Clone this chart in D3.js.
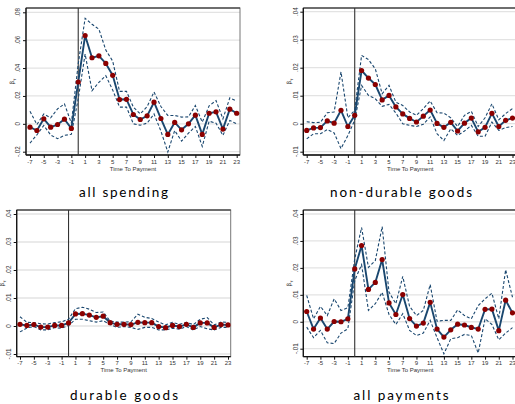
<!DOCTYPE html>
<html><head><meta charset="utf-8">
<script src="https://cdn.jsdelivr.net/npm/d3@7"></script>
<style>body{margin:0;background:#fff}svg{display:block}</style>
</head><body>
<svg id="c" width="515" height="404"></svg>
<script>
const tau = [-7,-6,-5,-4,-3,-2,-1,0,1,2,3,4,5,6,7,8,9,10,11,12,13,14,15,16,17,18,19,20,21,22,23];
const xTicks = [-7,-5,-3,-1,1,3,5,7,9,11,13,15,17,19,21,23];
const yTicksSpend = [-0.02,0,0.02,0.04,0.06,0.08];
const yTicksOther = [-0.01,0,0.01,0.02,0.03,0.04];
const titles = ["all spending","non-durable goods","durable goods","all payments"];

const spendEst = [-0.0024,-0.0048,0.0036,-0.0024,-0.0005,0.0033,-0.0033,0.030,0.0633,0.0474,0.0488,0.0433,0.0348,0.0174,0.0176,0.0067,0.0031,0.0057,0.0155,0.0038,-0.0076,0.001,-0.0043,0,0.0062,-0.0076,0.0076,0.0086,-0.0038,0.0105,0.0076];
const spendHi = [0.009,-0.0005,0.007,0.0043,0.0107,0.0143,0.0005,0.043,0.0757,0.0714,0.0679,0.0529,0.045,0.0233,0.0233,0.012,0.0071,0.0124,0.0229,0.0124,0.006,0.006,0.0048,0.005,0.0131,0.0012,0.0129,0.0167,0.0036,0.0186,0.0162];
const spendLo = [-0.0138,-0.0079,-0.0012,-0.008,-0.0107,-0.0083,-0.0075,0.018,0.05,0.0238,0.0298,0.0345,0.0243,0.012,0.012,0,-0.001,0.0005,0.0071,-0.0052,-0.0202,-0.0048,-0.0124,-0.0067,-0.0019,-0.0162,0.0019,0.0005,-0.0083,0.0024,0];

const nondurEst = [-0.0024,-0.0015,-0.0014,0.001,0.0002,0.0048,-0.001,0.003,0.019,0.0163,0.014,0.0085,0.0101,0.006,0.0035,0.0019,0.0006,0.0027,0.0049,0.0001,-0.0013,0.0005,-0.0026,0.0002,0.002,-0.0029,-0.0013,0.0037,-0.001,0.0012,0.002];
const nondurHi = [0.0007,0.0004,0.0005,0.0039,0.0042,0.0185,0.0021,0.0048,0.0244,0.0229,0.0196,0.0107,0.0137,0.0077,0.0065,0.0042,0.003,0.0054,0.0081,0.0039,0.0038,0.0021,-0.001,0.003,0.0044,-0.001,0.0021,0.0071,0.0014,0.0036,0.0054];
const nondurLo = [-0.0054,-0.0036,-0.0036,-0.0021,-0.0033,-0.0089,-0.0042,0.0012,0.0137,0.0101,0.0089,0.0062,0.0069,0.0038,0,-0.0006,-0.001,-0.0002,0.0024,-0.0036,-0.006,-0.0018,-0.0042,-0.0026,-0.0006,-0.0045,-0.0045,0.0006,-0.0024,-0.0014,-0.001];

const durEst = [0.0006,0.0002,0.0005,-0.0004,-0.0004,0.0002,0.0002,0.0011,0.0043,0.0044,0.0039,0.0031,0.0035,0.0012,0.0006,0.0006,0.0005,0.0013,0.0012,0.0012,-0.0002,-0.0006,0.0002,-0.0002,0.0006,-0.0005,0.0011,0.0011,-0.0005,0.0005,0.0004];
const durHi = [0.0033,0.0013,0.0012,0.0008,0.0007,0.0012,0.0015,0.0024,0.0062,0.0067,0.006,0.0048,0.005,0.0017,0.0014,0.0014,0.0015,0.0042,0.0031,0.0027,0.0014,0.0004,0.0013,0.0006,0.0013,0.0005,0.0024,0.003,0.0004,0.0014,0.0013];
const durLo = [-0.0021,-0.0007,-0.0002,-0.0014,-0.0014,-0.0006,-0.0008,0.0002,0.0024,0.0024,0.0019,0.0014,0.0019,0.0005,-0.0005,-0.0002,-0.0005,-0.0012,-0.0005,-0.0005,-0.0014,-0.0014,-0.0008,-0.0011,-0.0002,-0.0014,-0.0002,-0.001,-0.0014,-0.0005,-0.0005];

const payEst = [0.0038,-0.0027,0.0014,-0.0027,0.0001,0,0.0011,0.0196,0.0283,0.012,0.0146,0.0231,0.007,0.0027,0.0101,0.0012,-0.0016,-0.0005,0.0072,-0.0027,-0.0057,-0.003,-0.0009,-0.0012,-0.0021,-0.0027,0.0046,0.0047,-0.0033,0.008,0.0033];
const payHi = [0.0098,0.0011,0.0057,0.0023,0.0085,0.0042,0.0052,0.0233,0.035,0.0202,0.0227,0.0353,0.011,0.0067,0.0168,0.0057,0.0023,0.0042,0.0138,0.0002,0.0005,0.0005,0.0044,0.0023,0.0011,0.006,0.0085,0.0106,0.0011,0.0193,0.0091];
const payLo = [-0.002,-0.0059,-0.0032,-0.0078,-0.0081,-0.0042,-0.0026,0.0153,0.0212,0.0042,0.0067,0.0109,0.0027,-0.001,0.003,-0.0032,-0.0051,-0.0042,0.0005,-0.0059,-0.0119,-0.0063,-0.0059,-0.0047,-0.0051,-0.0116,0.0011,-0.001,-0.0067,-0.0042,-0.0022];

const panels = [
  {title:titles[0], est:spendEst, hi:spendHi, lo:spendLo, yTicks:yTicksSpend,
   frame:[26,240,8,155], xr:[30,236.7], yr:[151.7,12.3], titleXY:[123.5,197], tl:89},
  {title:titles[1], est:nondurEst, hi:nondurHi, lo:nondurLo, yTicks:yTicksOther,
   frame:[303.3,517.3,8,155], xr:[306.7,512.5], yr:[151.7,11.7], titleXY:[401,197], tl:142},
  {title:titles[2], est:durEst, hi:durHi, lo:durLo, yTicks:yTicksOther,
   frame:[16.7,230.7,210,356.7], xr:[20,228], yr:[354,214], titleXY:[124,400], tl:108},
  {title:titles[3], est:payEst, hi:payHi, lo:payLo, yTicks:yTicksOther,
   frame:[303.3,517.3,210,356.7], xr:[306.7,512.5], yr:[348.7,214], titleXY:[401,400], tl:95}
];

const svg = d3.select("#c");
const lineCol = "#1a476f", dotCol = "#8b0000";
const fmt = v => v === 0 ? "0" : (v < 0 ? "-" : "") + d3.format(".2f")(Math.abs(v)).replace(/^0/, "");
const smallFont = "Liberation Sans, Arial, sans-serif";

panels.forEach(p => {
  const [L,R,T,B] = p.frame;
  const x = d3.scaleLinear().domain([-7,23]).range(p.xr);
  const yd = [p.yTicks[0], p.yTicks[p.yTicks.length-1]];
  const y = d3.scaleLinear().domain(yd).range(p.yr);
  const g = svg.append("g");

  g.selectAll("line.grid").data(p.yTicks).join("line")
    .attr("x1", L).attr("x2", R).attr("y1", d => y(d)).attr("y2", d => y(d))
    .attr("stroke", "#e3e3e3").attr("stroke-width", 1.3);

  g.append("rect").attr("x", L).attr("y", T).attr("width", R-L).attr("height", B-T)
    .attr("fill", "none").attr("stroke", "#777").attr("stroke-width", 1);
  g.append("line").attr("x1", L).attr("x2", R).attr("y1", T).attr("y2", T).attr("stroke", "#222").attr("stroke-width", 1.2);

  const ya = g.append("g").attr("transform", `translate(${L},0)`)
    .call(d3.axisLeft(y).tickValues(p.yTicks).tickSize(3).tickFormat(""));
  ya.select(".domain").attr("stroke", "#111").attr("stroke-width", 1.3).attr("d", `M0,${T}V${B}`);
  ya.selectAll(".tick line").attr("stroke", "#111");
  g.selectAll("text.yl").data(p.yTicks).join("text")
    .attr("transform", d => `translate(${L-8.3},${y(d)}) rotate(-90)`)
    .attr("text-anchor", "middle").attr("dominant-baseline", "central")
    .attr("font-family", smallFont).attr("font-size", 6.3)
    .attr("fill", "#333").text(fmt);
  const bt = g.append("text")
    .attr("transform", `translate(${L-14.5},${(T+B)/2}) rotate(-90)`)
    .attr("text-anchor", "middle").attr("dominant-baseline", "central")
    .attr("font-family", "DejaVu Sans, sans-serif").attr("font-size", 5.8).attr("fill", "#333");
  bt.append("tspan").text("\u03b2");
  bt.append("tspan").attr("baseline-shift", "sub").attr("font-size", 4.2).text("\u03c4");

  const xa = g.append("g").attr("transform", `translate(0,${B})`)
    .call(d3.axisBottom(x).tickValues(xTicks).tickSize(3).tickFormat(""));
  xa.select(".domain").attr("stroke", "#111").attr("stroke-width", 1.3).attr("d", `M${L},0H${R}`);
  xa.selectAll(".tick line").attr("stroke", "#111");
  g.selectAll("text.xl").data(xTicks).join("text")
    .attr("x", d => x(d)).attr("y", B + 6.7)
    .attr("text-anchor", "middle").attr("dominant-baseline", "central")
    .attr("font-family", smallFont).attr("font-size", 6)
    .attr("fill", "#333").text(d => d);
  g.append("text").attr("x", (L+R)/2).attr("y", B + 13.5)
    .attr("text-anchor", "middle").attr("dominant-baseline", "central")
    .attr("font-family", smallFont).attr("font-size", 6)
    .attr("fill", "#333").text("Time To Payment");

  g.append("line").attr("x1", x(0)).attr("x2", x(0)).attr("y1", T).attr("y2", B)
    .attr("stroke", "#333").attr("stroke-width", 1.1);

  const ln = arr => d3.line().x((d,i) => x(tau[i])).y(d => y(d))(arr);
  g.append("path").attr("d", ln(p.hi)).attr("fill", "none").attr("stroke", lineCol)
    .attr("stroke-width", 1.1).attr("stroke-dasharray", "3,2");
  g.append("path").attr("d", ln(p.lo)).attr("fill", "none").attr("stroke", lineCol)
    .attr("stroke-width", 1.1).attr("stroke-dasharray", "3,2");
  g.append("path").attr("d", ln(p.est)).attr("fill", "none").attr("stroke", lineCol)
    .attr("stroke-width", 1.9).attr("stroke-linejoin", "round");
  g.selectAll("circle").data(p.est).join("circle")
    .attr("cx", (d,i) => x(tau[i])).attr("cy", d => y(d)).attr("r", 2.6)
    .attr("fill", dotCol);

  svg.append("text").attr("x", p.titleXY[0]).attr("y", p.titleXY[1])
    .attr("text-anchor", "middle")
    .attr("font-family", "Lato, DejaVu Sans, sans-serif").attr("font-size", 13.5)
    .attr("fill", "#000")
    .attr("textLength", p.tl).attr("lengthAdjust", "spacing")
    .text(p.title);
});
</script>
</body></html>
